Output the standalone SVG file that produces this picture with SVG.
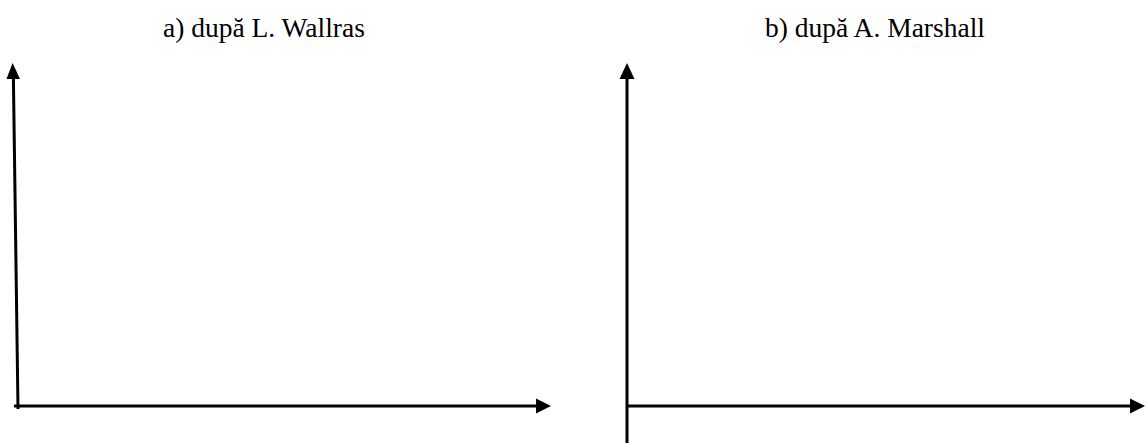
<svg xmlns="http://www.w3.org/2000/svg" width="1147" height="443" viewBox="0 0 1147 443">
<style>
.t{font-family:"Liberation Serif","Times New Roman",serif;font-size:27.5px;fill:#000}
.ax{stroke:#000;stroke-width:3;fill:none}
.ah{fill:#000}
</style>
<rect width="1147" height="443" fill="#fff"/>
<g id="title-a"><text class="t" x="163" y="37">a) după L. Wallras</text></g>
<g id="title-b"><text class="t" x="765" y="37">b) după A. Marshall</text></g>
<g id="connectors">
<line class="ax" x1="18" y1="409" x2="13.4" y2="78"/>
<polygon class="ah" points="12.6,63 20,79 6.5,79"/>
<line class="ax" x1="14" y1="406" x2="537" y2="406"/>
<polygon class="ah" points="551,406 536,398.5 536,413.5"/>
<line class="ax" x1="627" y1="443" x2="627" y2="78"/>
<polygon class="ah" points="627,63 634.5,79 619.5,79"/>
<line class="ax" x1="627" y1="406" x2="1131" y2="406"/>
<polygon class="ah" points="1145,406 1130,398.5 1130,413.5"/>
</g>
</svg>
